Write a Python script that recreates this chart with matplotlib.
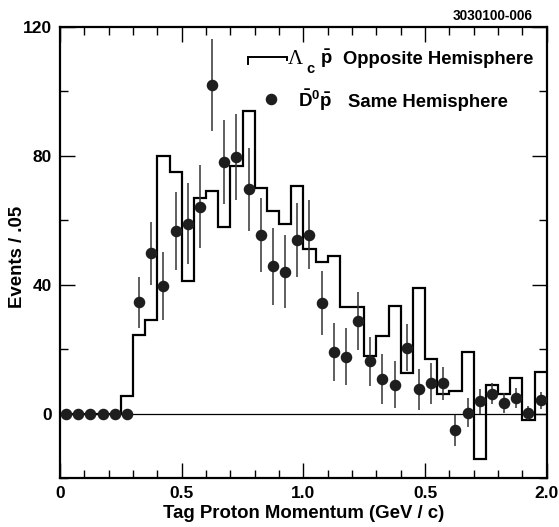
import numpy as np
import matplotlib
matplotlib.use("Agg")
import matplotlib.pyplot as plt
from matplotlib.ticker import MultipleLocator, FixedLocator, FixedFormatter

plt.rcParams['font.family'] = ['Liberation Sans', 'DejaVu Sans']
plt.rcParams['font.weight'] = 'bold'
plt.rcParams['mathtext.fontset'] = 'custom'
plt.rcParams['mathtext.rm'] = 'Liberation Sans:bold'
plt.rcParams['mathtext.bf'] = 'Liberation Sans:bold'
plt.rcParams['mathtext.it'] = 'Liberation Sans:bold'
plt.rcParams['mathtext.sf'] = 'Liberation Sans:bold'
plt.rcParams['mathtext.default'] = 'bf'

# Bin edges: 0.05 GeV/c bins over 0 - 2.0
bin_edges = np.round(np.arange(0, 2.0001, 0.05), 3)
bin_centers = (bin_edges[:-1] + bin_edges[1:]) / 2

# Lambda_c pbar, opposite hemisphere (histogram)
opp_hemisphere = [0, 0, 0, 0, 0, 5.5, 24.5, 29, 80, 75,
                  41, 67, 69, 58, 77, 94, 70, 63, 59, 70.5,
                  51, 47, 49, 33, 33, 18, 24, 33.5, 12.7, 39,
                  17, 6, 7, 19, -14, 9, 6, 11, -2, 13]

# D0bar pbar, same hemisphere (points with errors)
same_hemisphere = [0, 0, 0, 0, 0, 0, 34.5, 49.7, 39.7, 56.7,
                   59, 64.2, 102, 78, 79.6, 69.6, 55.5, 45.7, 44.1, 53.9,
                   55.5, 34.3, 19.1, 17.7, 28.7, 16.2, 10.8, 9, 20.5, 7.5,
                   9.4, 9.4, -5.2, 0.3, 3.8, 6.2, 3.4, 4.9, 0.3, 4.1]
same_errors = [0, 0, 0, 0, 0, 0, 7.8, 9.9, 10.5, 12,
               12.6, 12.9, 14.3, 13, 13.4, 12.8, 11.5, 12, 11.2, 11.5,
               10.7, 9.9, 9, 8.8, 8.9, 7.7, 7.7, 7.2, 7.2, 6.3,
               6.3, 5.1, 4.8, 4.5, 3.9, 3.2, 3.1, 3.1, 2.2, 2.6]

x_tick_vals = [0, 0.5, 1.0, 1.5, 2.0]
x_tick_labels = ['0', '0.5', '1.0', '0.5', '2.0']
y_tick_vals = [0, 40, 80, 120]

fig = plt.figure(figsize=(5.59, 5.27), dpi=100)
ax = fig.add_axes([60 / 559, 1 - 478 / 527, (546.7 - 60) / 559, (478 - 27) / 527])

ax.set_xlim(0, 2.0)
ax.set_ylim(-20, 120)

# zero line
ax.axhline(0, color='black', lw=0.9, zorder=1)

ax.stairs(opp_hemisphere, bin_edges, baseline=None, color='black', lw=1.6, zorder=2)

ax.errorbar(bin_centers, same_hemisphere,
            yerr=np.where(np.array(same_errors) > 0, same_errors, np.nan),
            fmt='o', color='#1e1e1e', ms=7.3, ecolor='#333333', elinewidth=1.1,
            capsize=0, zorder=3)

# legend drawn by hand
ax.plot([0.774, 0.774, 0.932, 0.932], [108.6, 110.6, 110.6, 109.8], color='black',
        lw=1.4, solid_joinstyle='miter', clip_on=False)
ax.text(0.937, 108.6, '\u039b', fontsize=15, family='Liberation Serif',
        fontweight='normal', ha='left', va='baseline')
ax.text(1.012, 105.8, 'c', fontsize=10.5, ha='left', va='baseline')
ax.text(1.068, 108.6, r'$\bar{p}$', fontsize=13.3, ha='left', va='baseline')
ax.text(1.162, 108.6, 'Opposite Hemisphere', fontsize=13.3, ha='left', va='baseline',
        fontweight='bold')
ax.plot([0.868], [97.7], 'o', color='#1e1e1e', ms=7.3)
ax.text(0.978, 95.3, r'$\bar{D}^{0}\bar{p}$', fontsize=13.5, ha='left', va='baseline')
ax.text(1.184, 95.3, 'Same Hemisphere', fontsize=13.3, ha='left', va='baseline',
        fontweight='bold')

ax.text(533 / 559, 1 - 20 / 527, '3030100-006', transform=fig.transFigure,
        fontsize=9.8, fontweight='bold', ha='right', va='baseline')

# ticks
ax.xaxis.set_major_locator(FixedLocator(x_tick_vals))
ax.xaxis.set_major_formatter(FixedFormatter(x_tick_labels))
ax.xaxis.set_minor_locator(MultipleLocator(0.1))
ax.yaxis.set_major_locator(FixedLocator(y_tick_vals))
ax.yaxis.set_minor_locator(MultipleLocator(20))
ax.tick_params(which='both', direction='in', top=True, right=True, width=1.0)
ax.tick_params(which='major', length=11, labelsize=12.5, pad=6)
ax.tick_params(which='minor', length=6)
for lab in ax.get_xticklabels() + ax.get_yticklabels():
    lab.set_fontweight('bold')
for s in ax.spines.values():
    s.set_linewidth(1.6)

ax.set_xlabel('Tag Proton Momentum (GeV / c)', fontsize=13.4, fontweight='bold', labelpad=3)
ax.set_ylabel('Events / .05', fontsize=13.4, fontweight='bold')
ax.yaxis.set_label_coords((26 - 60) / 486.7, (478 - 257) / 451)

fig.savefig('out.png', dpi=100)
